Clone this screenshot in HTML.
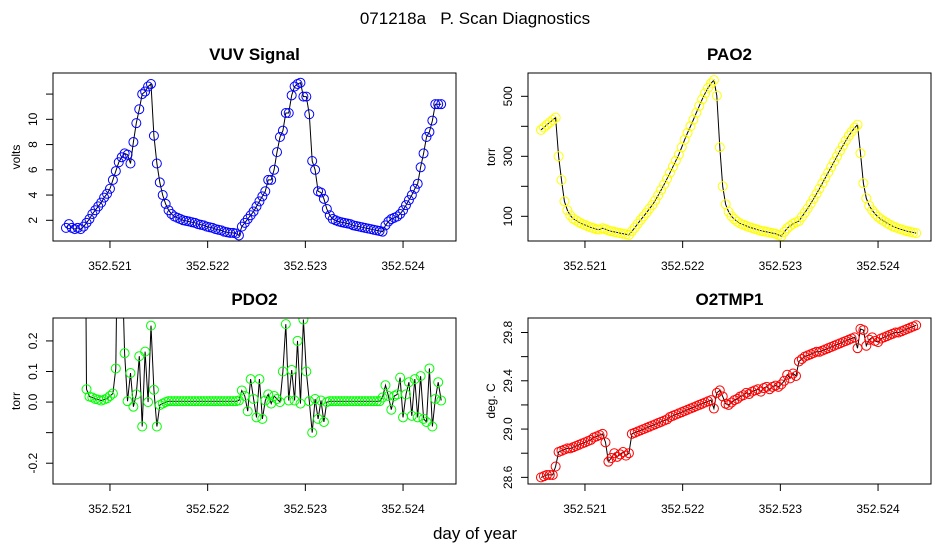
<!DOCTYPE html>
<html><head><meta charset="utf-8"><style>
body{margin:0;background:#fff;width:950px;height:550px;overflow:hidden}
svg text{font-family:"Liberation Sans",Arial,sans-serif}
</style></head><body>
<svg id="c" width="950" height="550" xmlns="http://www.w3.org/2000/svg">
<text x="475" y="24" text-anchor="middle" font-size="17" style="white-space:pre" xml:space="preserve">071218a   P. Scan Diagnostics</text>
<text x="475" y="539" text-anchor="middle" font-size="17">day of year</text>
</svg>
<script>
const T0 = 352.52055, DT = 0.00003, N = 129;
const xTicks = [352.521, 352.522, 352.523, 352.524];
const xTickLabels = ["352.521", "352.522", "352.523", "352.524"];

const vuv = [1.4,1.7,1.4,1.3,1.4,1.3,1.5,1.8,2.1,2.5,2.8,3.1,3.4,3.8,4.1,4.5,5.2,5.9,6.6,7.0,7.3,7.2,6.5,8.2,9.7,10.8,12.0,12.2,12.6,12.8,8.7,6.5,5.0,4.0,3.3,2.8,2.5,2.3,2.2,2.1,2.0,1.95,1.9,1.85,1.8,1.7,1.65,1.6,1.5,1.45,1.4,1.3,1.25,1.2,1.1,1.05,1.0,1.0,0.95,0.8,1.5,1.8,2.1,2.4,2.7,3.1,3.5,3.9,4.3,5.2,5.2,6.0,7.4,8.6,9.1,10.5,10.5,11.9,12.6,12.8,12.9,11.8,11.8,10.4,6.7,6.0,4.3,4.2,3.7,2.9,2.4,2.1,2.0,1.9,1.85,1.8,1.75,1.7,1.6,1.55,1.5,1.45,1.4,1.35,1.3,1.25,1.2,1.15,1.1,1.6,1.9,2.1,2.2,2.3,2.5,2.8,3.2,3.6,4.0,4.5,4.9,6.2,7.3,8.6,9.0,9.9,11.2,11.2,11.2];
const pao2 = [388,396,405,413,421,429,300,221,150,120,103,92,86,80,75,71,67,63,60,57,56,60,57,53,50,48,46,44,42,40,38,50,62,75,88,100,112,125,138,153,170,188,206,225,245,265,285,305,330,355,378,400,422,445,468,490,510,528,543,554,502,330,200,140,115,100,90,82,76,72,68,64,61,58,55,52,50,48,46,44,42,38,34,48,60,68,75,80,84,98,112,126,142,158,175,192,210,228,246,264,282,300,318,335,352,368,382,395,405,310,210,160,135,120,108,98,90,84,78,72,67,63,59,56,53,50,48,46,44];
const pdo2 = [1.5,1.5,1.5,1.5,1.5,1.5,1.5,0.042,0.018,0.015,0.01,0.008,0.005,0.008,0.012,0.02,0.028,0.11,0.9,0.5,0.16,0.003,0.095,-0.015,0.025,0.15,-0.08,0.165,0.0,0.25,0.04,-0.08,-0.01,-0.005,0.0,
0.003,0.003,0.003,0.003,0.003,0.003,0.003,0.003,0.003,0.003,0.003,0.003,0.003,0.003,0.003,0.003,0.003,0.003,0.003,0.003,0.003,0.003,0.003,0.003,
0.005,0.038,0.02,-0.03,0.075,0.01,-0.05,0.075,-0.055,0.005,0.025,-0.005,0.02,0.01,0.0,0.1,0.255,0.005,0.105,0.005,0.2,-0.005,0.27,0.1,0.003,-0.1,0.01,-0.055,0.005,-0.065,0.0,
0.003,0.003,0.003,0.003,0.003,0.003,0.003,0.003,0.003,0.003,0.003,0.003,0.003,0.003,0.003,0.003,0.003,0.003,
0.015,0.055,0.02,-0.025,0.02,0.025,0.08,-0.05,0.025,0.065,-0.045,0.075,-0.05,0.085,-0.055,-0.065,0.11,-0.08,0.01,0.065,0.005];
const o2tmp = [28.60,28.61,28.62,28.62,28.62,28.69,28.81,28.82,28.83,28.84,28.84,28.85,28.86,28.87,28.88,28.89,28.90,28.91,28.93,28.94,28.95,28.96,28.89,28.73,28.76,28.80,28.77,28.79,28.81,28.78,28.80,28.96,28.97,28.98,28.99,29.00,29.01,29.02,29.03,29.04,29.05,29.06,29.07,29.08,29.10,29.11,29.12,29.13,29.14,29.15,29.16,29.17,29.18,29.19,29.20,29.21,29.22,29.23,29.24,29.17,29.30,29.32,29.27,29.21,29.20,29.22,29.24,29.25,29.27,29.28,29.30,29.29,29.31,29.32,29.33,29.31,29.34,29.35,29.33,29.35,29.36,29.35,29.37,29.40,29.45,29.42,29.46,29.44,29.56,29.58,29.60,29.61,29.62,29.63,29.64,29.64,29.65,29.66,29.67,29.68,29.69,29.70,29.71,29.72,29.73,29.74,29.75,29.76,29.67,29.83,29.82,29.69,29.74,29.76,29.73,29.72,29.75,29.76,29.77,29.78,29.79,29.80,29.80,29.81,29.82,29.83,29.84,29.85,29.86];

const vuvTicks = [2,4,6,8,10,12], vuvLabels = ["2","4","6","8","10",""];
const paoTicks = [100,200,300,400,500], paoLabels = ["100","","300","","500"];
const pdoTicks = [-0.2,-0.1,0,0.1,0.2], pdoLabels = ["-0.2","","0.0","0.1","0.2"];
const tmpTicks = [28.6,28.8,29.0,29.2,29.4,29.6,29.8], tmpLabels = ["28.6","","29.0","","29.4","","29.8"];

const NS = "http://www.w3.org/2000/svg";
const svg = document.getElementById('c');
function mk(tag, attrs, parent) {
  const e = document.createElementNS(NS, tag);
  for (const k in attrs) e.setAttribute(k, attrs[k]);
  (parent || svg).appendChild(e);
  return e;
}
function panel(key, title, ylab, x0, y0, x1, y1, vmin, vmax, data, ticks, labels, color) {
  const g = mk('g', {});
  
  
  const tmin = 352.520417, tmax = 352.524542;
  const X = t => x0 + (t - tmin) / (tmax - tmin) * (x1 - x0);
  const Y = v => y1 - (v - vmin) / (vmax - vmin) * (y1 - y0);
  const cp = mk('clipPath', {id: 'clip-' + key}, g);
  mk('rect', {x: x0, y: y0, width: x1 - x0, height: y1 - y0}, cp);
  const tt = mk('text', {x: (x0 + x1) / 2, y: y0 - 13, 'text-anchor': 'middle', 'font-size': 17, 'font-weight': 'bold'}, g);
  tt.textContent = title;
  
  
  const yl = mk('text', {transform: `translate(${x0 - 33},${(y0 + y1) / 2}) rotate(-90)`, 'text-anchor': 'middle', 'font-size': 12}, g);
  yl.textContent = ylab;
  
  
  xTicks.forEach((t, i) => {
    const x = X(t);
    mk('line', {x1: x, y1: y1, x2: x, y2: y1 + 7, stroke: '#000'}, g);
    const l = mk('text', {x: x, y: y1 + 29, 'text-anchor': 'middle', 'font-size': 12}, g);
    l.textContent = xTickLabels[i];
    
    
  });
  ticks.forEach((v, i) => {
    const y = Y(v);
    mk('line', {x1: x0 - 7, y1: y, x2: x0, y2: y, stroke: '#000'}, g);
    if (labels[i]) {
      const l = mk('text', {transform: `translate(${x0 - 16},${y}) rotate(-90)`, 'text-anchor': 'middle', 'font-size': 12}, g);
      l.textContent = labels[i];
      
      
    }
  });
  const inner = mk('g', {'clip-path': `url(#clip-${key})`}, g);
  const pts = data.map((v, i) => [X(T0 + i * DT), Y(v)]);
  const line = mk('polyline', {points: pts.map(p => p[0].toFixed(1) + ',' + p[1].toFixed(1)).join(' '), fill: 'none', stroke: '#000', 'stroke-width': 1}, inner);
  
  
  pts.forEach(p => {
    const c = mk('circle', {cx: p[0], cy: p[1], r: 4.5, fill: 'none', stroke: color, 'stroke-width': 1}, inner);
    
    
  });
  const box = mk('rect', {x: x0, y: y0, width: x1 - x0, height: y1 - y0, fill: 'none', stroke: '#000', 'stroke-width': 1}, g);
  
  
}
panel('vuv', 'VUV Signal', 'volts', 53, 73, 456, 241, 0.36, 13.67, vuv, vuvTicks, vuvLabels, '#0000ff');
panel('pao2', 'PAO2', 'torr', 528, 73, 931, 241, 17.7, 577.7, pao2, paoTicks, paoLabels, '#ffff00');
panel('pdo2', 'PDO2', 'torr', 53, 318, 456, 484, -0.268, 0.275, pdo2, pdoTicks, pdoLabels, '#00ff00');
panel('o2tmp1', 'O2TMP1', 'deg. C', 528, 318, 931, 484, 28.545, 29.92, o2tmp, tmpTicks, tmpLabels, '#ff0000');
</script>
</body></html>
